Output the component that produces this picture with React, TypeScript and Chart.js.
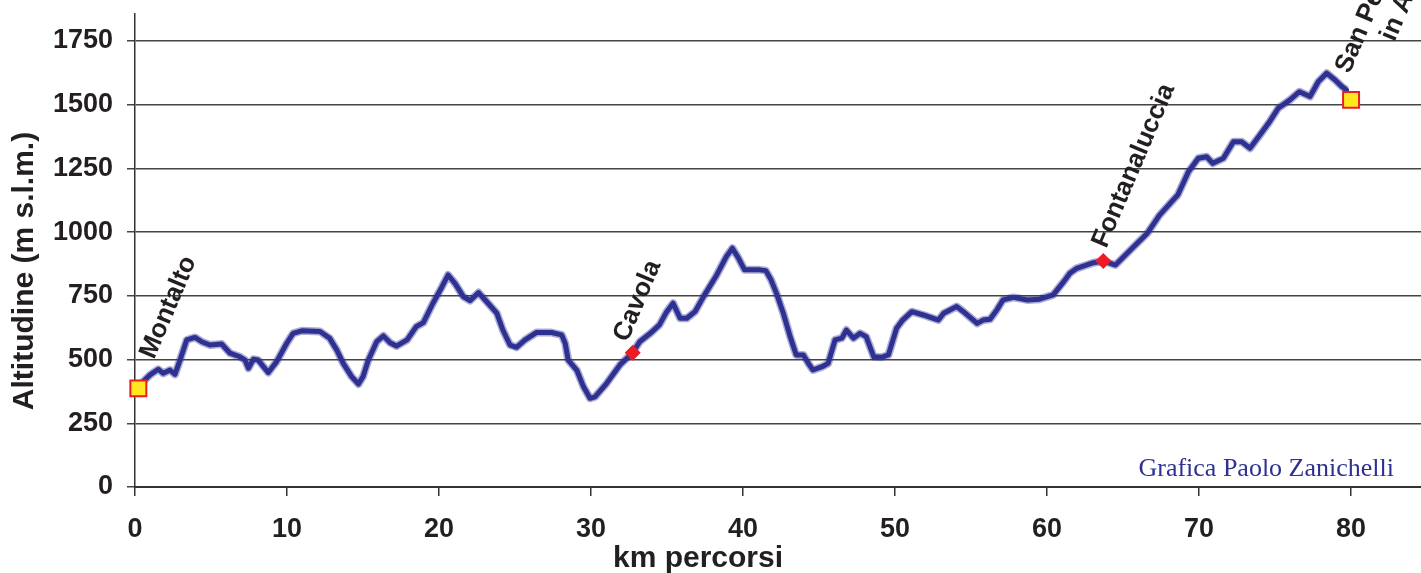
import React, { useEffect, useRef } from 'react';
import { Chart, registerables } from 'chart.js';

Chart.register(...registerables);

// Altitude profile (km travelled, metres above sea level)
const profileKm = [
  0.3, 0.99, 1.53, 1.86, 2.3, 2.63, 2.96, 3.4, 3.95, 4.39,
  4.93, 5.7, 6.25, 6.9, 7.24, 7.46, 7.79, 8.1, 8.77, 9.32,
  9.98, 10.4, 10.97, 12.17, 12.8, 13.27, 13.7, 14.25, 14.7, 15.0,
  15.35, 15.9, 16.34, 16.78, 17.2, 17.9, 18.5, 18.97, 19.6, 20.2,
  20.6, 21.05, 21.6, 22.04, 22.6, 23.14, 23.8, 24.2, 24.67, 25.1,
  25.66, 26.4, 27.4, 28.07, 28.3, 28.5, 29.06, 29.5, 29.93, 30.26,
  31.03, 31.9, 32.74, 33.2, 33.9, 34.5, 34.98, 35.4, 35.86, 36.3,
  36.84, 37.4, 38.27, 38.9, 39.3, 39.7, 40.1, 41.1, 41.5, 41.85,
  42.2, 42.65, 43.1, 43.5, 43.97, 44.3, 44.6, 45.2, 45.6, 46.05,
  46.5, 46.8, 47.26, 47.7, 48.1, 48.6, 49.1, 49.56, 50.1, 50.5,
  51.1, 51.86, 52.85, 53.2, 54.05, 54.5, 55.4, 55.8, 56.25, 56.7,
  57.1, 57.8, 58.7, 59.5, 60.4, 61.1, 61.5, 61.95, 63.05, 63.7,
  64.5, 65.6, 66.6, 67.4, 68.6, 69.3, 69.95, 70.5, 70.9, 71.6,
  72.26, 72.8, 73.35, 74.0, 74.6, 75.2, 75.98, 76.6, 77.3, 77.85,
  78.4, 78.95, 79.4, 79.7,
];
const profileAlt = [
  400, 440, 462, 446, 459, 442, 498, 577, 587, 570,
  557, 561, 525, 511, 498, 466, 501, 498, 449, 492,
  564, 603, 613, 610, 584, 538, 485, 433, 404, 433,
  498, 570, 593, 566, 553, 577, 629, 645, 721, 786,
  832, 799, 747, 731, 763, 727, 682, 616, 557, 548,
  577, 606, 606, 597, 564, 498, 459, 394, 348, 354,
  407, 479, 527, 570, 603, 636, 688, 721, 662, 662,
  688, 747, 832, 904, 937, 898, 852, 852, 849, 812,
  760, 682, 590, 518, 518, 485, 459, 472, 485, 577,
  584, 616, 584, 603, 590, 511, 509, 518, 623, 655,
  688, 675, 655, 682, 708, 688, 642, 655, 658, 695,
  734, 744, 734, 737, 754, 806, 839, 858, 880, 887,
  871, 937, 996, 1067, 1146, 1237, 1290, 1296, 1270, 1290,
  1355, 1355, 1329, 1381, 1430, 1486, 1519, 1551, 1532, 1591,
  1624, 1597, 1571, 1558,
];

// Places along the route
const markerKm = [0.22, 32.74, 63.7, 80];
const markerAlt = [387, 527, 887, 1519];
const markerKind = ['end', 'town', 'town', 'end'];

const placeNames: (string | string[])[] = ['Montalto', 'Cavola', 'Fontanaluccia', ['San Pellegrino', 'in Alpe']];
const placeKm = [1.25, 32.4, 63.9, 79.9];
const placeAlt = [498, 565, 934, 1619];

const xTicks = [0, 10, 20, 30, 40, 50, 60, 70, 80];
const yTicks = [0, 250, 500, 750, 1000, 1250, 1500, 1750];

const xTitle = 'km percorsi';
const yTitle = 'Altitudine (m s.l.m.)';
const credit = 'Grafica Paolo Zanichelli';

const SANS = '"Liberation Sans", Arial, sans-serif';
const SERIF = '"Liberation Serif", "Times New Roman", serif';
const INK = '#231F20';
const LINE_BLUE = '#2E3192';

const noPadding = (s: any) => {
  s.paddingTop = 0;
  s.paddingBottom = 0;
  s.paddingLeft = 0;
  s.paddingRight = 0;
};

export default function App() {
  const canvasRef = useRef<HTMLCanvasElement | null>(null);

  useEffect(() => {
    const canvas = canvasRef.current;
    if (!canvas) return;

    const textPlugin = {
      id: 'profileText',
      afterDatasetsDraw(chart: any) {
        const { ctx, scales } = chart;
        const xs = scales.x;
        const ys = scales.y;
        ctx.save();
        ctx.font = `bold 26px ${SANS}`;
        ctx.fillStyle = INK;
        ctx.textAlign = 'left';
        ctx.textBaseline = 'alphabetic';
        placeNames.forEach((name, i) => {
          const lines = Array.isArray(name) ? name : [name];
          const px = xs.getPixelForValue(placeKm[i]);
          const py = ys.getPixelForValue(placeAlt[i]);
          ctx.save();
          ctx.translate(px, py);
          ctx.rotate((-67 * Math.PI) / 180);
          const w0 = ctx.measureText(lines[0]).width;
          lines.forEach((ln, j) => {
            const w = ctx.measureText(ln).width;
            ctx.fillText(ln, (w0 - w) / 2, j * 29);
          });
          ctx.restore();
        });
        ctx.restore();
      },
      afterDraw(chart: any) {
        const { ctx } = chart;
        ctx.save();
        ctx.fillStyle = INK;
        ctx.font = `bold 30px ${SANS}`;
        ctx.textAlign = 'center';
        ctx.textBaseline = 'alphabetic';
        ctx.fillText(xTitle, 698, 567);
        ctx.save();
        ctx.translate(33, 271);
        ctx.rotate(-Math.PI / 2);
        ctx.fillText(yTitle, 0, 0);
        ctx.restore();
        ctx.font = `26px ${SERIF}`;
        ctx.fillStyle = LINE_BLUE;
        ctx.textAlign = 'right';
        ctx.fillText(credit, 1394, 476);
        ctx.restore();
      },
    };

    const profile = profileKm.map((k, i) => ({ x: k, y: profileAlt[i] }));
    const markers = markerKm.map((k, i) => ({ x: k, y: markerAlt[i] }));

    const chart = new Chart(canvas, {
      type: 'scatter',
      data: {
        datasets: [
          {
            label: 'places',
            data: markers,
            showLine: false,
            clip: false,
            pointStyle: markerKind.map((m) => (m === 'end' ? 'rect' : 'rectRot')) as any,
            pointRadius: markerKind.map((m) => (m === 'end' ? 11.3 : 8)),
            pointBackgroundColor: markerKind.map((m) => (m === 'end' ? '#FFE81F' : '#ED1C24')),
            pointBorderColor: '#ED1C24',
            pointBorderWidth: markerKind.map((m) => (m === 'end' ? 2 : 0)),
          } as any,
          {
            label: 'profile',
            data: profile,
            showLine: true,
            borderColor: LINE_BLUE,
            borderWidth: 5,
            pointRadius: 0,
            tension: 0,
            borderJoinStyle: 'round',
            borderCapStyle: 'round',
          } as any,
          {
            label: 'halo',
            data: profile,
            showLine: true,
            borderColor: 'rgba(46,49,146,0.4)',
            borderWidth: 8,
            pointRadius: 0,
            tension: 0,
            borderJoinStyle: 'round',
          } as any,
        ],
      },
      options: {
        animation: false,
        responsive: false,
        devicePixelRatio: 1,
        layout: { autoPadding: false, padding: { left: 0, top: 14, right: 0, bottom: 0 } },
        plugins: {
          legend: { display: false },
          tooltip: { enabled: false },
          title: { display: false },
        },
        scales: {
          x: {
            type: 'linear',
            min: 0,
            max: 84.6,
            afterBuildTicks: (s: any) => {
              s.ticks = xTicks.map((v) => ({ value: v }));
            },
            afterFit: (s: any) => {
              s.height = 86;
              noPadding(s);
            },
            ticks: {
              autoSkip: false,
              maxRotation: 0,
              padding: 17,
              color: INK,
              font: { family: SANS, size: 27, weight: 'bold' },
              callback: (v: any) => String(v),
            },
            grid: {
              drawOnChartArea: false,
              drawTicks: true,
              tickLength: 9,
              color: '#333',
              lineWidth: 1.5,
            },
            border: { display: true, color: '#333', width: 2 },
          },
          y: {
            type: 'linear',
            min: 0,
            max: 1856,
            afterBuildTicks: (s: any) => {
              s.ticks = yTicks.map((v) => ({ value: v }));
            },
            afterFit: (s: any) => {
              s.width = 135;
              noPadding(s);
            },
            ticks: {
              padding: 14,
              color: INK,
              font: { family: SANS, size: 27, weight: 'bold' },
              callback: (v: any) => String(v),
            },
            grid: {
              drawTicks: true,
              tickLength: 8,
              color: '#444',
              lineWidth: 1.5,
            },
            border: { display: true, color: '#333', width: 1.5 },
          },
        },
      } as any,
      plugins: [textPlugin],
    });

    return () => {
      chart.destroy();
    };
  }, []);

  return (
    <div style={{ position: 'absolute', left: 0, top: 0, width: 1421, height: 573, background: '#fff' }}>
      <canvas ref={canvasRef} width={1421} height={573} style={{ display: 'block' }} />
    </div>
  );
}
